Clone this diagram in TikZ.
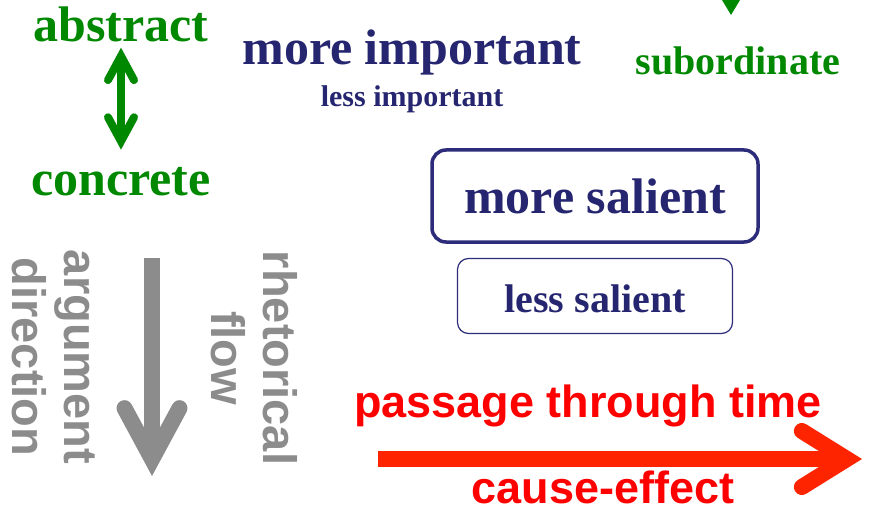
\documentclass[tikz,border=0pt]{standalone}
\usepackage{fontspec}
\setmainfont{Liberation Serif}
\setsansfont{Liberation Sans}
\usetikzlibrary{arrows.meta}

\definecolor{leafgreen}{RGB}{0,136,0}
\definecolor{inknavy}{RGB}{38,38,112}
\definecolor{boxnavy}{RGB}{44,44,122}
\definecolor{flowgray}{RGB}{140,140,140}
\definecolor{timered}{RGB}{255,0,0}
\definecolor{arrowred}{RGB}{255,36,0}

\tikzset{
  seriflabel/.style={inner sep=0pt, anchor=base},
  sanslabel/.style={inner sep=0pt, font=\sffamily\bfseries\fontsize{47}{52}\selectfont,
    text=flowgray, align=center, rotate=-90},
  salientbox/.style={draw=boxnavy, text=inknavy},
  greentip/.tip={Straight Barb[length=24pt, width=26pt, line cap=round, line join=miter]},
  graytip/.tip={Straight Barb[length=51pt, width=55pt, line cap=round, line join=miter]},
  redtip/.tip={Straight Barb[length=45pt, width=56pt, line cap=round, line join=miter]},
}

\begin{document}
\begin{tikzpicture}[x=1pt, y=-1pt]
    \useasboundingbox (0,0) rectangle (880,513);

    % Abstract / concrete scale
    \node[seriflabel, text=leafgreen, font=\bfseries\fontsize{50}{60}\selectfont] (abstract) at (121,42) {abstract};
    \node[seriflabel, text=leafgreen, font=\bfseries\fontsize{50}{60}\selectfont] (concrete) at (121,195) {concrete};
    \draw[leafgreen, line width=8pt, greentip-greentip,
        shorten <=5pt, shorten >=17pt] (abstract.south) -- (concrete.north);

    % Importance
    \node[seriflabel, text=inknavy, font=\bfseries\fontsize{50}{60}\selectfont] (moreimp) at (412,65) {more important};
    \node[seriflabel, text=inknavy, font=\bfseries\fontsize{30}{36}\selectfont] (lessimp) at (412,107) {less important};

    % Subordinate (arrow coming in from above)
    \node[seriflabel, text=leafgreen, font=\bfseries\fontsize{40}{48}\selectfont] (subord) at (738,75) {subordinate};
    \fill[leafgreen] (722,0) -- (740,0) -- (731,15) -- cycle;

    % Salience boxes
    \node[salientbox, line width=3.5pt, rounded corners=14pt, minimum width=326pt, minimum height=92pt,
        font=\bfseries\fontsize{50}{60}\selectfont] (moresal) at (595,196) {more salient};
    \node[salientbox, line width=1.2pt, rounded corners=11pt, minimum width=275pt, minimum height=75pt,
        text height=34pt, font=\bfseries\fontsize{40}{48}\selectfont] (lesssal) at (595,296) {less salient};

    % Rhetorical flow
    \node[sanslabel] (argdir) at (54,357) {argument\\direction};
    \node[sanslabel] (rhetflow) at (254,358) {rhetorical\\flow};
    \coordinate (flowtop) at (152,258);
    \coordinate (flowtip) at (152,476);
    \draw[flowgray, line width=16pt, -graytip] (flowtop) -- (flowtip);

    % Passage through time
    \node[seriflabel, text=timered, font=\sffamily\bfseries\fontsize{45}{54}\selectfont] (passage) at (588,417) {passage through time};
    \node[seriflabel, text=timered, font=\sffamily\bfseries\fontsize{45}{54}\selectfont] (cause) at (603,503) {cause-effect};
    \coordinate (timestart) at (378,459);
    \coordinate (timetip) at (862,459);
    \draw[arrowred, line width=16pt, -redtip] (timestart) -- (timetip);
\end{tikzpicture}
\end{document}
